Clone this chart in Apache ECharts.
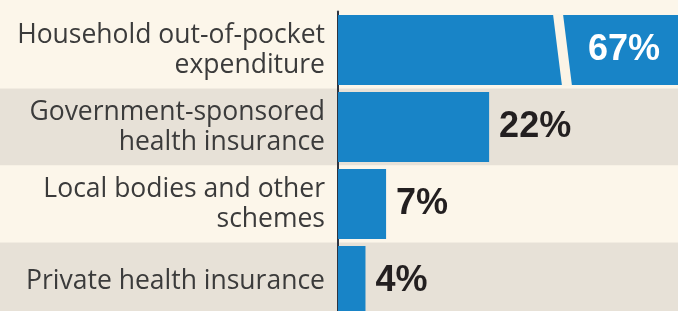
<!DOCTYPE html>
<html>
<head>
<meta charset="utf-8">
<script src="https://cdn.jsdelivr.net/npm/echarts@6/dist/echarts.min.js"></script>
<style>
html,body{margin:0;padding:0;background:#fcf6ea;}
#chart{width:678px;height:311px;}
</style>
</head>
<body>
<div id="chart"></div>
<script>
var categories = [
  'Household out-of-pocket\nexpenditure',
  'Government-sponsored\nhealth insurance',
  'Local bodies and other\nschemes',
  'Private health insurance'
];
var shares = [67, 22, 7, 4];
var valueLabels = ['67%', '22%', '7%', '4%'];

var BLUE = '#1884c7';
var chart = echarts.init(document.getElementById('chart'), null, {renderer: 'canvas'});

var barData = shares.map(function (v, i) {
  var item = {value: v};
  if (i === 0) {
    item.label = {position: 'insideRight', distance: 18, color: '#ffffff', fontSize: 36};
  }
  return item;
});

chart.setOption({
  backgroundColor: '#fcf6ea',
  animation: false,
  grid: [
    {left: 0, right: 0, top: 11.5, height: 308, containLabel: false, outerBoundsMode: 'none'},
    {left: 338, right: 0, top: 11.5, height: 308, containLabel: false, outerBoundsMode: 'none'}
  ],
  xAxis: [{
    gridIndex: 0, type: 'value', min: 0, max: 1,
    axisLine: {show: false}, axisTick: {show: false},
    axisLabel: {show: false}, splitLine: {show: false}
  }, {
    gridIndex: 1, type: 'value', min: 0, max: 49.5,
    axisLine: {show: false}, axisTick: {show: false},
    axisLabel: {show: false}, splitLine: {show: false}
  }],
  yAxis: [{
    gridIndex: 0, type: 'category', inverse: true, data: categories,
    axisLine: {show: false}, axisTick: {show: false}, axisLabel: {show: false},
    splitArea: {show: true, areaStyle: {color: ['#fcf6ea', '#e7e1d7']}}
  }, {
    gridIndex: 1, type: 'category', inverse: true, data: categories,
    axisLine: {show: true, lineStyle: {color: '#2e3440', width: 2}},
    axisTick: {show: false},
    splitArea: {show: false},
    axisLabel: {
      margin: 13, fontSize: 26.5, lineHeight: 30,
      fontFamily: 'Open Sans', color: '#3b3b3b', align: 'right'
    }
  }],
  series: [{
    type: 'bar',
    xAxisIndex: 1, yAxisIndex: 1,
    data: barData,
    barCategoryGap: '9%',
    itemStyle: {color: BLUE},
    label: {
      show: true, position: 'right', distance: 10,
      formatter: function (p) { return valueLabels[p.dataIndex]; },
      fontFamily: 'Liberation Sans', fontWeight: 'bold', fontSize: 36, color: '#231f20'
    }
  }, {
    type: 'custom',
    xAxisIndex: 1, yAxisIndex: 1,
    data: [[shares[0], 0]],
    z: 5,
    renderItem: function (params, api) {
      var breakAt = 31.3;
      var catIdx = api.value(1);
      var center = api.coord([breakAt, catIdx]);
      var bandH = api.size([0, 1])[1];
      var h = bandH * 0.91;
      var top = center[1] - h / 2 - 1, bottom = center[1] + h / 2 + 1;
      var x0 = center[0];
      var gap = 10, slant = 9;
      return {
        type: 'polygon',
        shape: {points: [[x0, top], [x0 + gap, top], [x0 + gap + slant, bottom], [x0 + slant, bottom]]},
        style: {fill: '#fbf4e6'}
      };
    }
  }]
});
</script>
</body>
</html>
